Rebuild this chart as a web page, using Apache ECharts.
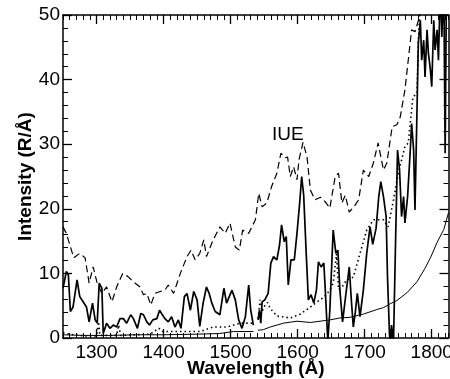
<!DOCTYPE html>
<html>
<head>
<meta charset="utf-8">
<script src="https://cdn.jsdelivr.net/npm/echarts@6/dist/echarts.min.js"></script>
<style>
  html, body { margin: 0; padding: 0; background: #fff; }
  #container { width: 450px; height: 379px; }
</style>
</head>
<body>
<div id="container"></div>
<script>
  // tick labels
  var xMajor = [1300, 1400, 1500, 1600, 1700, 1800];

  // IUE spectrum (dashed)
  var iueWl = [1250,1255,1266,1275,1283,1289,1295,1301,1308,1315,1323,1330,1339,1347,1355,1365,1370,1375,1381,1387,1395,1402,1407,1415,1425,1435,1441,1447,1454,1460,1464,1474,1484,1492,1499,1507,1513,1518,1527,1537,1542,1547,1554,1561,1569,1575,1581,1585,1589,1594,1599,1602,1608,1614,1619,1626,1634,1641,1648,1656,1661,1666,1671,1677,1686,1691,1698,1706,1713,1720,1728,1733,1741,1748,1753,1760,1770,1775,1782,1790];
  var iueI = [17.2,16.2,12.4,13.1,12.4,8.5,11.0,8.5,6.9,7.9,5.6,7.9,10.0,9.5,8.7,7.9,6.7,6.9,5.1,6.9,7.2,7.4,8.2,6.9,10.0,12.6,13.6,12.1,13.1,15.2,12.6,15.2,17.2,16.2,17.8,14.1,13.6,16.7,16.2,18.3,22.4,20.3,20.9,23.4,25.5,28.6,27.9,28.0,25.0,26.5,24.5,27.6,30.3,28.0,22.9,21.4,21.8,21.1,20.1,25.0,25.5,20.9,22.1,19.5,20.6,21.4,26.0,25.0,27.1,30.2,26.0,27.1,32.7,33.0,34.2,38.4,47.7,47.4,49.8,56];

  // measured spectrum (thick solid)
  var specWl = [1250,1255,1258,1261,1265,1271,1275,1280,1285,1289,1294,1298,1301,1304,1308,1310,1315,1320,1325,1330,1335,1340,1345,1351,1355,1361,1366,1370,1375,1379,1384,1390,1394,1397,1402,1407,1412,1417,1422,1426,1431,1435,1440,1445,1450,1454,1459,1464,1468,1472,1477,1484,1490,1494,1502,1507,1512,1517,1522,1527,1530,1534,1537,1541,1543,1545,1547,1551,1556,1560,1564,1569,1573,1576,1580,1583,1586,1590,1595,1599,1603,1606,1609,1613,1616,1620,1624,1628,1631,1635,1639,1641,1645,1648,1653,1657,1660,1663,1667,1671,1677,1680,1683,1686,1689,1693,1698,1703,1708,1712,1717,1721,1724,1728,1732,1734,1737,1738,1740,1743,1746,1749,1752,1755,1758,1760,1764,1768,1770,1773,1775,1778,1780,1783,1785,1788,1790,1793,1795,1798,1800,1803,1805,1808,1810,1813,1815,1818,1820,1822,1825];
  var specI = [7.7,10.3,9.8,4.1,4.8,9.0,6.4,5.6,4.8,2.5,5.4,2.8,2.3,8.5,7.7,0.7,2.3,1.5,2.0,1.7,3.0,3.0,2.3,3.6,3.0,1.5,3.8,3.6,2.5,2.0,2.8,3.0,4.3,3.8,3.0,2.5,3.3,1.7,2.8,1.5,6.4,6.9,4.3,7.2,5.9,1.8,5.4,7.9,6.9,5.4,4.1,3.6,7.7,5.4,7.4,5.9,2.8,1.5,3.3,8.2,4.3,2.0,'-',2.8,4.3,2.3,5.6,5.9,6.9,11.6,12.6,12.1,14.4,17.5,14.9,15.7,8.2,12.1,12.1,16.2,20.9,25.0,22.1,12.6,5.9,6.7,5.4,7.4,11.8,11.0,11.6,7.9,-0.5,4.3,16.7,13.1,13.6,7.4,2.5,6.0,11.0,6.0,1.7,4.0,6.9,3.3,7.4,13.1,17.2,14.5,17.0,21.9,24.2,21.9,18.8,9.5,0.5,-0.5,2.0,-0.5,14.7,29.1,26.0,18.8,21.9,17.8,21.9,29.1,33.2,29.1,19.8,35.3,45.6,49.2,43.0,46.1,40.4,47.7,44.1,41.5,38.9,49.2,44.6,47.7,43.0,55,46.6,55,28.6,55,55];

  // model (dotted)
  var modelWl = [1250,1265,1285,1300,1303,1305,1330,1333,1336,1380,1393,1398,1430,1454,1474,1494,1514,1534,1537,1541,1544,1547,1551,1555,1559,1569,1589,1604,1619,1629,1639,1648,1653,1658,1661,1667,1673,1683,1693,1703,1713,1728,1735,1743,1750,1760,1765,1772,1778,1780,1783];
  var modelI = [0.8,0.5,0.3,0.3,2.5,0.4,0.4,2.0,0.4,0.6,1.5,1.0,1.0,1.0,1.7,1.7,2.3,2.3,'-',3.0,5.9,4.1,5.0,5.5,4.6,3.4,3.1,3.7,4.8,5.6,6.3,7.4,8.5,13.0,7.5,8.0,9.0,9.4,13.1,16.7,18.3,18.3,17.2,21.4,25.5,29.6,30.2,37.3,37.9,46,52];

  // background (thin solid)
  var bgWl = [1250,1280,1320,1360,1400,1454,1484,1504,1534,1537,1541,1549,1559,1579,1599,1619,1648,1663,1678,1698,1718,1728,1738,1748,1763,1778,1790,1798,1808,1818,1825];
  var bgI = [0.5,0.4,0.4,0.5,0.5,0.6,0.7,1.0,1.0,'-',1.2,1.3,1.7,2.3,2.6,2.4,2.8,3.1,3.2,3.7,4.4,4.7,5.3,5.8,7.0,8.7,10.8,12.4,14.8,16.8,19.4];

  function zip(a, b) {
    var out = [];
    for (var i = 0; i < Math.min(a.length, b.length); i++) out.push([a[i], b[i]]);
    return out;
  }

  var font = '"Liberation Sans", Arial, Helvetica, sans-serif';
  var black = '#000';

  // two axes per side: long ticks at the hundreds, short ones every 10 Å
  function xAx(pos, major, show) {
    var ax = {
      type: 'value', position: pos, min: 1250, max: 1825,
      axisLine: { show: show, onZero: false, lineStyle: { color: black, width: 1.5 } },
      splitLine: { show: false },
      axisLabel: { show: false }
    };
    if (major) {
      ax.axisTick = { show: true, inside: true, length: 9, customValues: xMajor, lineStyle: { color: black, width: 1.3 } };
    } else {
      ax.interval = 10;
      ax.axisTick = { show: true, inside: true, length: 5, lineStyle: { color: black, width: 1 } };
    }
    return ax;
  }

  var xAxes = [xAx('bottom', true, true), xAx('bottom', false, false), xAx('top', true, true), xAx('top', false, false)];
  xAxes[0].axisLabel = {
    show: true, customValues: xMajor, color: black, fontSize: 19, fontFamily: font, margin: 5,
    formatter: function (v) { return String(v); }
  };
  xAxes[0].name = 'Wavelength (Å)';
  xAxes[0].nameLocation = 'middle';
  xAxes[0].nameGap = 21;
  xAxes[0].nameMoveOverlap = false;
  xAxes[0].nameTextStyle = { color: black, fontSize: 19, fontWeight: 'bold', fontFamily: font };

  function yAx(pos, labels) {
    return {
      type: 'value', position: pos, min: 0, max: 50, interval: 10,
      axisLine: { show: true, onZero: false, lineStyle: { color: black, width: 1.5 } },
      axisTick: { show: true, inside: true, length: 9, lineStyle: { color: black, width: 1.3 } },
      minorTick: { show: true, splitNumber: 5, length: 5, lineStyle: { color: black, width: 1 } },
      splitLine: { show: false },
      minorSplitLine: { show: false },
      axisLabel: { show: labels, color: black, fontSize: 19, fontFamily: font, margin: 3 },
      name: labels ? 'Intensity (R/Å)' : '',
      nameLocation: 'middle',
      nameGap: 28,
      nameMoveOverlap: false,
      nameTextStyle: { color: black, fontSize: 19, fontWeight: 'bold', fontFamily: font }
    };
  }

  var chart = echarts.init(document.getElementById('container'), null, { renderer: 'canvas' });
  chart.setOption({
    animation: false,
    backgroundColor: '#fff',
    grid: { left: 63, right: 1.5, top: 15, bottom: 41, outerBoundsMode: 'none', containLabel: false },
    xAxis: xAxes,
    yAxis: [yAx('left', true), yAx('right', false)],
    graphic: [{
      type: 'text', left: 272, top: 125,
      style: { text: 'IUE', fontSize: 19, fontFamily: font, fill: black }
    }],
    series: [
      { type: 'line', data: zip(iueWl, iueI), symbol: 'none', clip: true,
        lineStyle: { color: black, width: 1.2, type: [7, 4] } },
      { type: 'line', data: zip(modelWl, modelI), symbol: 'none', clip: true,
        lineStyle: { color: black, width: 1.6, type: [1.5, 3] } },
      { type: 'line', data: zip(bgWl, bgI), symbol: 'none', clip: true,
        lineStyle: { color: black, width: 1 } },
      { type: 'line', data: zip(specWl, specI), symbol: 'none', clip: true,
        lineStyle: { color: black, width: 1.7 } }
    ]
  });
</script>
</body>
</html>
